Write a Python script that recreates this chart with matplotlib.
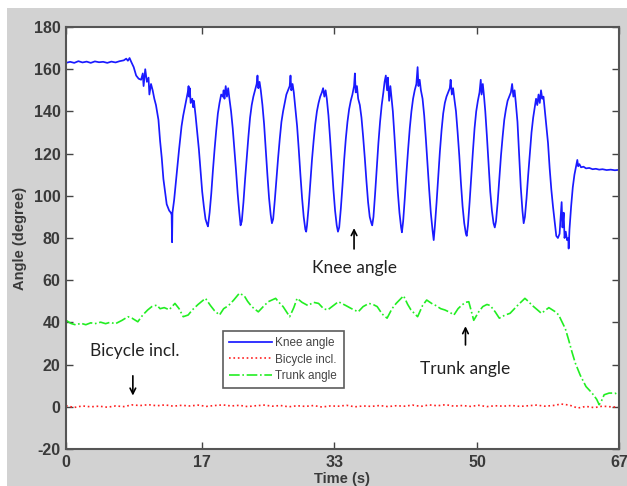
import matplotlib
matplotlib.use("Agg")
import matplotlib.pyplot as plt
from matplotlib.patches import Rectangle

plt.rcParams["axes.unicode_minus"] = False

# ---------------- data ----------------
knee_t = [0, 0.5, 1, 1.5, 2, 2.5, 3, 3.5, 4, 4.5, 5, 5.5, 6, 6.5, 7, 7.3, 7.5, 7.7, 7.9,
          8.2, 8.5, 8.8, 9.1, 9.3, 9.4, 9.6, 9.8, 10.0, 10.1, 10.3, 10.5, 10.7, 10.9,
          11.2, 11.4, 11.6, 11.8, 12.0, 12.2, 12.5, 12.7, 12.8, 12.85, 12.9,
          13.1, 13.3, 13.5, 13.7, 14.0, 14.2, 14.4, 14.6, 14.8, 14.85, 14.9, 15.0, 15.1,
          15.3, 15.4, 15.5, 15.7, 15.9, 16.1, 16.3, 16.5, 16.7, 16.9, 17.1,
          17.2, 17.4, 17.6, 17.8, 18.0, 18.2, 18.4, 18.6, 18.8, 19.0, 19.1, 19.2, 19.35,
          19.5, 19.65, 19.8, 20.0, 20.2, 20.4, 20.6, 20.8, 21.0, 21.15,
          21.3, 21.5, 21.7, 21.9, 22.1, 22.3, 22.5, 22.7, 22.9, 23.1, 23.2, 23.3, 23.45,
          23.6, 23.8, 24.0, 24.2, 24.4, 24.6, 24.8, 24.95,
          25.1, 25.3, 25.5, 25.7, 25.9, 26.1, 26.3, 26.5, 26.7, 26.9, 27.1, 27.2, 27.3,
          27.45, 27.6, 27.8, 28.0, 28.2, 28.4, 28.6, 28.8, 29.0, 29.1,
          29.2, 29.4, 29.6, 29.8, 30.0, 30.2, 30.4, 30.6, 30.8, 31.0, 31.15, 31.3, 31.45,
          31.6, 31.8, 32.0, 32.2, 32.4, 32.6, 32.8, 32.95,
          33.1, 33.3, 33.5, 33.7, 33.9, 34.1, 34.3, 34.5, 34.7, 34.9, 35.0, 35.1, 35.25,
          35.4, 35.6, 35.8, 36.0, 36.2, 36.4, 36.6, 36.8, 37.0, 37.1,
          37.25, 37.45, 37.65, 37.85, 38.05, 38.25, 38.45, 38.6, 38.75, 38.9, 39.0, 39.15,
          39.3, 39.45, 39.6, 39.8, 40.0, 40.2, 40.4, 40.6, 40.7,
          40.85, 41.05, 41.25, 41.45, 41.65, 41.85, 42.05, 42.25, 42.45, 42.6, 42.7, 42.85,
          43.0, 43.2, 43.4, 43.6, 43.8, 44.0, 44.2, 44.4, 44.55,
          44.7, 44.9, 45.1, 45.3, 45.5, 45.7, 45.9, 46.1, 46.3, 46.5, 46.6, 46.75, 46.9,
          47.05, 47.25, 47.45, 47.65, 47.85, 48.05, 48.25, 48.45, 48.55,
          48.7, 48.9, 49.1, 49.3, 49.5, 49.7, 49.9, 50.1, 50.25, 50.35, 50.5, 50.65,
          50.8, 51.0, 51.2, 51.4, 51.6, 51.8, 51.95,
          52.1, 52.3, 52.5, 52.7, 52.9, 53.1, 53.3, 53.5, 53.7, 53.9, 54.05, 54.2, 54.35,
          54.5, 54.7, 54.9, 55.1, 55.3, 55.45,
          55.6, 55.8, 56.0, 56.2, 56.4, 56.6, 56.8, 56.95, 57.1, 57.25, 57.4, 57.55, 57.7,
          57.85, 58.0, 58.2, 58.4, 58.6, 58.8, 59.0, 59.2, 59.4, 59.6, 59.8, 59.95, 60.05,
          60.15, 60.3, 60.4, 60.55, 60.7, 60.85, 60.9, 61.0, 61.2, 61.4, 61.6, 61.8, 61.95,
          62.05, 62.2, 62.4, 62.7, 63.0, 63.4, 63.8, 64.2, 64.6, 65.0, 65.5, 66.0, 66.5, 67.0]
knee_v = [163, 163.5, 163, 163.8, 163.2, 163.6, 163, 163.7, 163.3, 163.5, 163, 163.6, 163.2, 163.8, 164.2, 165, 164, 165.3, 163.5,
          161, 157, 155.5, 155, 158, 152, 160, 154, 156, 148, 153, 150, 146, 143,
          136, 126, 118, 108, 102, 96, 93, 92, 91, 78, 92,
          98, 106, 114, 122, 133, 138, 142, 146, 150, 152, 147, 151, 144,
          146, 142, 145, 138, 130, 122, 112, 102, 95, 89, 86.5,
          85.5, 92, 101, 112, 122, 131, 139, 144, 148, 147, 150, 146, 152,
          147, 151, 146, 140, 132, 122, 112, 101, 92, 86,
          88, 97, 108, 118, 128, 137, 143, 147, 150, 153, 157, 151, 154,
          150, 143, 134, 122, 110, 99, 91, 87,
          89, 98, 108, 118, 127, 135, 140, 144, 148, 150, 152, 157, 150,
          153, 149, 141, 133, 122, 110, 99, 90, 84, 83,
          86, 95, 106, 117, 126, 134, 140, 144, 147, 149, 151, 147, 150,
          146, 138, 127, 115, 103, 93, 86, 83,
          85, 94, 105, 117, 127, 135, 141, 145, 148, 152, 158, 149, 152,
          146, 143, 137, 128, 118, 107, 97, 90, 87, 86,
          90, 101, 113, 125, 135, 143, 149, 154, 157, 150, 156, 145,
          152, 146, 140, 128, 115, 102, 92, 85, 82.7,
          88, 99, 111, 122, 132, 140, 146, 150, 153, 161, 152, 155,
          150, 146, 138, 127, 115, 103, 92, 84, 79,
          86, 97, 109, 121, 131, 139, 144, 147, 149, 151, 155, 148, 151,
          146, 140, 130, 119, 106, 95, 87, 82, 81,
          86, 97, 109, 121, 132, 140, 145, 149, 155, 148, 153, 147,
          140, 128, 115, 102, 93, 87, 85,
          88, 97, 108, 119, 128, 136, 141, 145, 147, 149, 153, 147, 150,
          144, 135, 120, 104, 93, 87,
          90, 99, 110, 120, 130, 137, 142, 146, 143, 148, 144, 150, 146,
          147, 141, 133, 125, 113, 103, 95, 88, 81, 80, 82, 91, 97,
          85, 92, 80, 83, 79, 80, 75, 84, 95, 104, 110, 114, 117,
          114, 115, 113.5, 113.8, 113, 113.2, 112.6, 112.8, 112.4, 112.6, 112.2, 112.4, 112.1, 112.3]

trunk_t = [0, 0.6, 1.2, 1.8, 2.4, 3.0, 3.5, 4.2, 4.8, 5.3, 6.0, 6.8, 7.5, 8.0, 8.7, 9.3, 9.9,
           10.4, 11.0, 11.4, 11.9, 12.5, 13.2, 13.7, 14.2, 14.8, 15.3, 16.0, 16.9, 17.5,
           18.0, 18.6, 19.1, 19.7, 20.3, 21.0, 21.6, 22.0, 22.5, 23.3, 23.9, 24.5, 25.4,
           25.8, 26.3, 27.1, 27.6, 28.0, 28.6, 29.3, 30.0, 30.6, 31.2, 31.7, 32.4, 33.0,
           33.9, 34.6, 35.4, 36.0, 36.7, 37.2, 37.7, 38.3, 38.9, 39.5, 40.0, 40.9, 41.4,
           41.8, 42.6, 43.2, 43.7, 44.3, 44.8, 45.4, 45.9, 46.5, 47.0, 47.5, 47.9, 48.4,
           48.8, 49.4, 50.0, 50.5, 51.0, 51.4, 52.0, 52.5, 53.2, 53.8, 54.7, 55.6, 56.0,
           56.5, 57.1, 57.6, 58.0, 58.5, 58.9, 59.3, 59.7, 60.0, 60.5, 60.9, 61.3, 61.7,
           62.3, 63.0, 63.5, 63.9, 64.3, 64.6, 64.9, 65.2, 65.8, 66.5, 67.0]
trunk_v = [41, 39.5, 38.8, 39.6, 38.9, 39.8, 39.4, 40.1, 39.4, 40.0, 39.4, 41, 42.7, 42, 40.3, 43.5, 45.9,
           47.5, 48.2, 46.5, 47, 46, 49, 46.5, 42.7, 43.5, 45.9, 48.5, 51.4, 48,
           45.5, 43.5, 46.5, 48, 50.5, 53.8, 52.6, 50, 47.5, 45, 47.5, 49.8, 51.4,
           49.5, 47.5, 42.7, 47, 51.4, 49.5, 48, 49.5, 49, 46.5, 45.9, 48, 49.8,
           48, 46.5, 45, 47.5, 49, 48.5, 47.5, 44, 42, 46.5, 49, 52.6, 48.5,
           45.9, 42.7, 48, 50.6, 49, 48, 46.5, 45.9, 44.8, 43.5, 46.5, 48, 49.5,
           49.8, 41, 45, 47.5, 48.5, 48, 45, 42, 43.5, 44.3, 48, 51.4, 50,
           48, 46, 44.3, 45.5, 47, 46, 45, 43.5, 41, 37, 31.7, 26, 20.8,
           15, 9.6, 7.5, 5.7, 3.5, 1, 3, 5.7, 6.5, 6.5, 5.5]

incl_t = [0, 1, 2, 3, 4, 5, 6, 7, 8, 9, 10, 11, 12, 13, 14, 15, 16, 17, 18, 19, 20,
          21, 22, 23, 24, 25, 26, 27, 28, 29, 30, 31, 32, 33, 34, 35, 36, 37, 38, 39, 40,
          41, 42, 43, 44, 45, 46, 47, 48, 49, 50, 51, 52, 53, 54, 55, 56, 57, 58, 59, 60,
          61, 62, 63, 64, 65, 66, 67]
incl_v = [0.5, -0.3, 0.4, 0.0, 0.3, -0.2, 0.4, 0.1, 0.9, 0.6, 1.0, 0.5, 0.9, 0.3, 0.7, 0.4, 0.8, 0.2, 0.6, 0.9, 0.4,
          0.7, 0.1, 0.5, 0.8, 0.3, 0.6, 0.0, 0.5, 0.2, 0.6, -0.1, 0.4, 0.3, 0.7, 0.0, 0.4, 0.2, 0.6, 0.1, 0.5,
          0.3, 0.8, 0.2, 0.9, 0.5, 1.0, 0.3, 0.6, 0.2, 0.7, 0.1, 0.5, 0.3, 0.6, 0.2, 0.5, 0.8, 0.3, 0.6, 1.3,
          0.8, -0.6, 0.2, -0.4, 0.3, 0.0, -0.2]

xtick_pos = [0, 16.5, 32.5, 49.8, 67]
xtick_labels = ["0", "17", "33", "50", "67"]
ytick_vals = [-20, 0, 20, 40, 60, 80, 100, 120, 140, 160, 180]

# ---------------- figure ----------------
W, H = 627, 486
fig = plt.figure(figsize=(W / 100, H / 100), dpi=100, facecolor="white")
bg = Rectangle((7 / W, 0), 1 - 7 / W, (H - 8) / H, transform=fig.transFigure,
               facecolor="#d2d2d2", edgecolor="none", zorder=-10)
fig.patches.append(bg)

ax = fig.add_axes([66 / W, (H - 449) / H, (619 - 66) / W, (449 - 27) / H])
ax.set_zorder(5)
ax.set_facecolor("white")

ax.plot(knee_t, knee_v, color="#1a1aff", lw=1.25, label="Knee angle")
ax.plot(incl_t, incl_v, color="#ff2020", lw=1.2, ls=":", label="Bicycle incl.")
ax.plot(trunk_t, trunk_v, color="#22ee22", lw=1.2, ls="-.", label="Trunk angle")

ax.set_xlim(0, 67)
ax.set_ylim(-20, 180)
ax.set_xticks(xtick_pos)
ax.set_xticklabels(xtick_labels)
ax.set_yticks(ytick_vals)

tick_font = ["Liberation Sans", "DejaVu Sans"]
ax.tick_params(direction="in", length=5, width=1, colors="#444444", top=True, right=True, pad=4)
for lab in ax.get_xticklabels() + ax.get_yticklabels():
    lab.set_family(tick_font)
    lab.set_fontsize(11.5)
    lab.set_color("#3a3a3a")
    lab.set_fontweight("bold")
for s in ax.spines.values():
    s.set_color("#555555")
    s.set_linewidth(1.5)

ax.set_xlabel("Time (s)", family=tick_font, fontsize=10.5, fontweight="bold", color="#3a3a3a", labelpad=2)
ax.set_ylabel("Angle (degree)", family=tick_font, fontsize=10.5, fontweight="bold", color="#3a3a3a", labelpad=5)

leg = ax.legend(loc="lower left", bbox_to_anchor=(0.274, 0.130, 0.240, 0.147), mode="expand",
                prop={"family": tick_font, "size": 8.5}, frameon=True, fancybox=False,
                handlelength=3.6, handletextpad=0.3, borderpad=0.5, labelspacing=0.4)
leg.get_frame().set_edgecolor("#333333")
leg.get_frame().set_linewidth(1.2)
for t in leg.get_texts():
    t.set_color("#444444")

ann_font = ["Lato", "DejaVu Sans"]
ax.text(34.9, 65.7, "Knee angle", ha="center", va="center", fontsize=12.5, family=ann_font, color="#222222")
ax.annotate("", xy=(34.9, 86), xytext=(34.9, 73.5),
            arrowprops=dict(arrowstyle="->", color="black", lw=1.2))
ax.text(8.3, 26.5, "Bicycle incl.", ha="center", va="center", fontsize=12.5, family=ann_font, color="#222222")
ax.annotate("", xy=(8.1, 4), xytext=(8.1, 16),
            arrowprops=dict(arrowstyle="->", color="black", lw=1.2))
ax.text(48.4, 17.8, "Trunk angle", ha="center", va="center", fontsize=12.5, family=ann_font, color="#222222")
ax.annotate("", xy=(48.4, 39.5), xytext=(48.4, 28),
            arrowprops=dict(arrowstyle="->", color="black", lw=1.2))

fig.savefig("out.png", dpi=100, facecolor=fig.get_facecolor())
